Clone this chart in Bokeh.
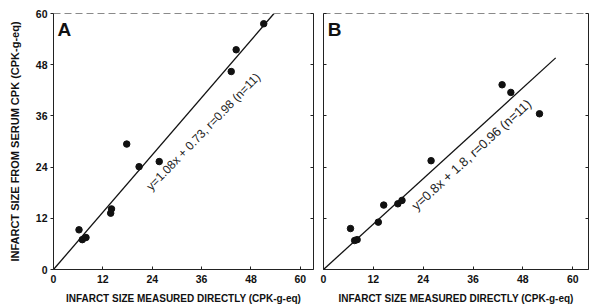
from bokeh.plotting import figure
from bokeh.models import (Range1d, LinearAxis, FixedTicker, Label, ColumnDataSource,
                          CustomJSTickFormatter)
from bokeh.layouts import row
from bokeh.embed import file_html
from bokeh.resources import INLINE

# ---- data ----
ticks = [0, 12, 24, 36, 48, 60]

a_direct = [6.2, 7.0, 7.9, 13.9, 14.1, 17.8, 20.8, 25.7, 43.2, 44.4, 51.1]
a_serum = [9.3, 7.0, 7.5, 13.2, 14.2, 29.4, 24.1, 25.3, 46.4, 51.5, 57.6]
a_fit_x = [0, 53.6]
a_fit_y = [0, 60.0]
a_eq = "y=1.08x + 0.73, r=0.98 (n=11)"

b_direct = [6.5, 7.5, 8.1, 13.2, 14.5, 17.9, 18.9, 25.9, 43.0, 45.1, 52.0]
b_serum = [9.6, 6.8, 7.0, 11.1, 15.1, 15.4, 16.2, 25.5, 43.3, 41.5, 36.5]
b_fit_x = [0, 55.9]
b_fit_y = [0, 49.6]
b_eq = "y=0.8x + 1.8, r=0.96 (n=11)"

x_title = "INFARCT SIZE MEASURED DIRECTLY (CPK-g-eq)"
y_title = "INFARCT SIZE FROM SERUM CPK (CPK-g-eq)"

FONT = "Liberation Sans"


def style_axis(ax, labels=True, tick_in=3, tick_out=0):
    ax.ticker = FixedTicker(ticks=ticks)
    ax.minor_tick_line_color = None
    ax.major_tick_in = tick_in
    ax.major_tick_out = tick_out
    ax.axis_line_color = "#222222"
    ax.major_tick_line_color = "#222222"
    ax.axis_line_width = 1
    ax.major_label_text_font = FONT
    ax.major_label_text_font_style = "bold"
    ax.major_label_text_font_size = "10.5px"
    ax.major_label_text_color = "#111111"
    ax.axis_label_text_font = FONT
    ax.axis_label_text_font_style = "bold"
    ax.axis_label_text_font_size = "10px"
    ax.axis_label_text_color = "#111111"
    if not labels:
        ax.formatter = CustomJSTickFormatter(code="return ''")
        ax.major_label_text_color = None
        ax.major_label_standoff = 0


def make_panel(xs, ys, fx, fy, eq, letter, width, xmax, left, right, show_y,
               eq_pos, eq_angle, eq_size):
    p = figure(width=width, height=307, output_backend="svg", toolbar_location=None,
               x_range=Range1d(0, xmax), y_range=Range1d(0, 60),
               min_border_left=left, min_border_right=right,
               min_border_top=13, min_border_bottom=38)
    p.grid.visible = False
    p.outline_line_color = None
    p.background_fill_color = "white"
    p.border_fill_color = "white"

    style_axis(p.xaxis[0], labels=True, tick_in=3, tick_out=0)
    p.xaxis[0].major_label_standoff = 5
    p.xaxis[0].axis_label = x_title
    p.xaxis[0].axis_label_standoff = 7

    if show_y:
        style_axis(p.yaxis[0], labels=True, tick_in=0, tick_out=3)
        p.yaxis[0].major_label_standoff = 3
        p.yaxis[0].axis_label = y_title
        p.yaxis[0].axis_label_text_font_size = "11px"
        p.yaxis[0].axis_label_standoff = 12
    else:
        style_axis(p.yaxis[0], labels=False, tick_in=3, tick_out=0)

    rax = LinearAxis()
    style_axis(rax, labels=False, tick_in=3, tick_out=0)
    p.add_layout(rax, "right")

    tax = LinearAxis()
    style_axis(tax, labels=False, tick_in=0, tick_out=0)
    tax.axis_line_color = "#8a8a8a"
    tax.axis_line_dash = "7 4"
    tax.major_tick_line_color = None
    p.add_layout(tax, "above")

    p.line(fx, fy, line_color="#111111", line_width=1.3)
    src = ColumnDataSource(dict(x=xs, y=ys))
    p.scatter("x", "y", source=src, size=6.5, fill_color="#111111", line_color="#111111")

    p.add_layout(Label(x=1.0, y=58.6, text=letter, text_baseline="top",
                       text_font="Liberation Sans", text_font_size="19px",
                       text_font_style="bold", text_color="#111111"))
    p.add_layout(Label(x=eq_pos[0], y=eq_pos[1], text=eq, angle=eq_angle, angle_units="deg",
                       text_font="Liberation Sans", text_font_size=eq_size,
                       text_color="#222222", text_baseline="alphabetic"))
    return p


pa = make_panel(a_direct, a_serum, a_fit_x, a_fit_y, a_eq, "A", 318, 63.2, 53, 5, True,
                (23.1, 19.0), 46, "12px")
pb = make_panel(b_direct, b_serum, b_fit_x, b_fit_y, b_eq, "B", 271, 63.8, 5, 1, False,
                (21.7, 14.5), 42.5, "13px")

layout = row(pa, pb, spacing=0)
open("out.html", "w").write(file_html(layout, INLINE))
